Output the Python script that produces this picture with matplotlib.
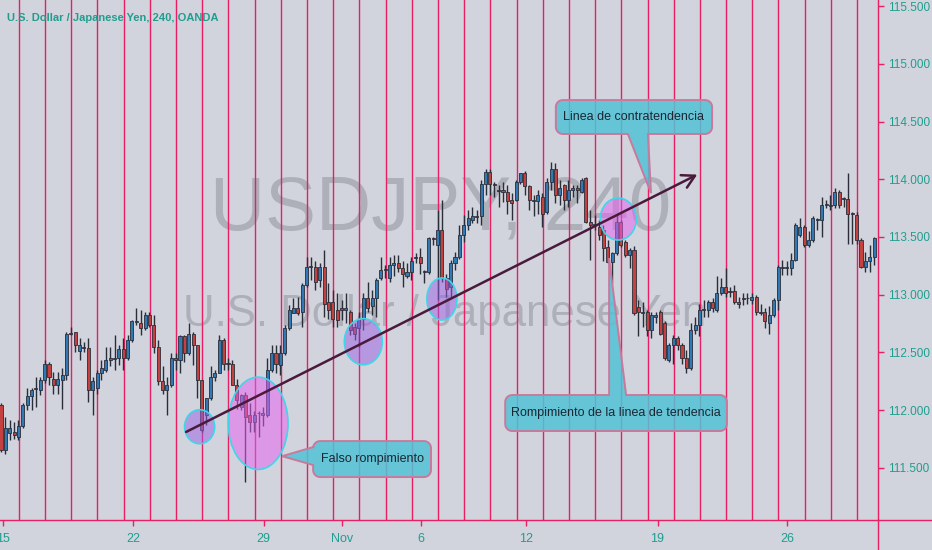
import numpy as np
import matplotlib.pyplot as plt
import matplotlib.transforms as mtransforms
from matplotlib.patches import Ellipse, Polygon
from matplotlib.lines import Line2D
from matplotlib.colors import to_rgba

plt.rcParams['font.family'] = ['Liberation Sans Narrow', 'Liberation Sans', 'DejaVu Sans']

# 4h candles, USDJPY
opens = [112.04, 111.65, 111.80, 111.81, 111.77, 111.86, 112.04, 112.12, 112.18, 112.17,
         112.26, 112.40, 112.27, 112.22, 112.26, 112.30, 112.66, 112.68, 112.51, 112.55,
         112.54, 112.17, 112.19, 112.32, 112.35, 112.43, 112.44, 112.45, 112.53, 112.45,
         112.61, 112.76, 112.75, 112.71, 112.82, 112.74, 112.55, 112.25, 112.17, 112.22,
         112.45, 112.43, 112.64, 112.49, 112.66, 112.56, 112.26, 111.96, 112.10, 112.29,
         112.32, 112.61, 112.41, 112.40, 112.22, 112.03, 112.13, 111.96, 111.90, 111.97,
         111.96, 111.96, 112.35, 112.49, 112.39, 112.49, 112.71, 112.84, 112.88,
         112.85, 113.08, 113.24, 113.24, 113.13, 113.24, 112.94, 112.94, 112.87, 112.88,
         112.87, 112.85, 112.72, 112.71, 112.79, 112.97, 112.90, 112.97, 113.14, 113.21,
         113.14, 113.26, 113.27, 113.23, 113.16, 113.20, 113.32, 113.33, 113.20, 113.20,
         113.49, 113.43, 113.56, 113.14, 113.07, 113.27, 113.33, 113.52, 113.60, 113.65,
         113.68, 113.68, 113.96, 114.06, 113.96, 113.91, 113.91, 113.89, 113.82, 113.82,
         113.98, 114.05, 113.94, 113.82, 113.81, 113.85, 113.72, 113.98, 114.09, 113.86,
         113.95, 113.82, 113.91, 113.92, 113.89, 114.01, 113.63, 113.60, 113.59,
         113.56, 113.41, 113.28, 113.36, 113.63, 113.46, 113.34, 113.39, 112.89, 112.84,
         112.85, 112.69, 112.81, 112.85, 112.75, 112.43, 112.56, 112.62, 112.56, 112.45,
         112.36, 112.69, 112.74, 112.87, 112.87, 112.94, 112.87, 113.01, 113.07, 113.03,
         113.03, 112.94, 112.97, 112.97, 112.95, 112.98, 112.85, 112.85, 112.75, 112.82,
         112.95, 113.24, 113.23, 113.23, 113.30, 113.52, 113.59, 113.43, 113.47, 113.65,
         113.65, 113.78, 113.77, 113.78, 113.89, 113.83, 113.83, 113.70, 113.69, 113.47,
         113.24, 113.29, 113.33]
highs = [112.06, 111.94, 111.91, 111.90, 111.91, 112.06, 112.19, 112.19, 112.29, 112.29,
         112.43, 112.42, 112.33, 112.33, 112.36, 112.68, 112.72, 112.68, 112.62, 112.59,
         112.62, 112.29, 112.35, 112.43, 112.55, 112.55, 112.65, 112.56, 112.62, 112.65,
         112.78, 112.88, 112.87, 112.85, 112.85, 112.82, 112.61, 112.38, 112.29, 112.49,
         112.49, 112.65, 112.65, 112.75, 112.68, 112.56, 112.26, 112.10, 112.38, 112.35,
         112.65, 112.62, 112.45, 112.43, 112.27, 112.14, 112.16, 112.06, 111.99, 111.99,
         112.03, 112.45, 112.56, 112.56, 112.56, 112.74, 112.91, 112.97, 112.98,
         113.10, 113.33, 113.33, 113.29, 113.27, 113.39, 113.10, 113.04, 113.01, 112.95,
         113.01, 112.87, 112.75, 112.85, 113.01, 113.11, 113.04, 113.14, 113.33, 113.26,
         113.33, 113.34, 113.34, 113.29, 113.27, 113.33, 113.36, 113.40, 113.21, 113.50,
         113.50, 113.73, 113.82, 113.18, 113.30, 113.37, 113.60, 113.69, 113.73, 113.76,
         113.73, 113.99, 114.09, 114.09, 113.98, 113.95, 113.98, 113.95, 113.88, 113.99,
         114.05, 114.07, 113.95, 113.86, 113.91, 113.88, 114.01, 114.15, 114.14, 113.99,
         113.96, 113.99, 113.95, 113.95, 114.01, 114.02, 113.73, 113.69, 113.65,
         113.60, 113.47, 113.37, 113.70, 113.65, 113.47, 113.40, 113.42, 112.95, 112.94,
         112.87, 112.85, 112.85, 112.87, 112.77, 112.58, 112.65, 112.64, 112.58, 112.52,
         112.75, 112.81, 112.92, 112.95, 112.95, 112.97, 113.16, 113.14, 113.23, 113.07,
         113.08, 112.98, 113.01, 113.01, 113.01, 113.00, 112.92, 112.88, 112.90, 112.97,
         113.26, 113.30, 113.29, 113.36, 113.62, 113.66, 113.60, 113.55, 113.68, 113.66,
         113.85, 113.82, 113.86, 113.92, 113.91, 113.85, 114.05, 113.72, 113.72, 113.49,
         113.37, 113.43, 113.50]
lows = [111.64, 111.62, 111.74, 111.75, 111.74, 111.84, 112.00, 112.00, 112.03, 112.13,
        112.23, 112.22, 112.14, 112.14, 112.01, 112.26, 112.65, 112.50, 112.43, 112.50,
        112.07, 111.96, 112.14, 112.26, 112.33, 112.38, 112.35, 112.39, 112.35, 112.43,
        112.59, 112.74, 112.65, 112.69, 112.72, 112.49, 112.22, 112.14, 111.96, 112.20,
        112.35, 112.32, 112.42, 112.48, 112.39, 112.10, 111.81, 111.87, 112.09, 112.25,
        112.32, 112.35, 112.35, 112.22, 112.01, 112.00, 111.38, 111.81, 111.81, 111.77,
        111.86, 111.94, 112.33, 112.32, 112.30, 112.48, 112.69, 112.84, 112.82,
        112.72, 113.07, 113.13, 113.04, 113.07, 112.81, 112.79, 112.72, 112.72, 112.78,
        112.75, 112.65, 112.61, 112.55, 112.69, 112.85, 112.82, 112.81, 113.13, 113.14,
        113.11, 113.16, 113.20, 113.07, 113.14, 113.13, 113.27, 113.18, 113.10, 113.18,
        113.43, 112.95, 113.11, 112.98, 112.97, 113.21, 113.31, 113.46, 113.56, 113.62,
        113.62, 113.60, 113.86, 113.86, 113.85, 113.76, 113.80, 113.70, 113.65, 113.81,
        113.96, 113.86, 113.73, 113.68, 113.70, 113.59, 113.70, 113.91, 113.79, 113.78,
        113.73, 113.76, 113.85, 113.79, 113.88, 113.62, 113.30, 113.56, 113.47,
        113.29, 113.27, 113.10, 113.34, 113.41, 113.33, 113.23, 112.82, 112.64, 112.72,
        112.64, 112.62, 112.75, 112.65, 112.43, 112.42, 112.40, 112.52, 112.40, 112.32,
        112.35, 112.66, 112.64, 112.81, 112.81, 112.85, 112.85, 113.00, 112.98, 112.98,
        112.92, 112.88, 112.91, 112.92, 112.92, 112.82, 112.82, 112.71, 112.66, 112.81,
        112.87, 113.17, 113.17, 113.17, 113.29, 113.50, 113.41, 113.41, 113.46, 113.56,
        113.50, 113.75, 113.73, 113.75, 113.75, 113.76, 113.44, 113.44, 113.44, 113.23,
        113.20, 113.20, 113.26]
closes = [111.65, 111.84, 111.84, 111.78, 111.86, 112.04, 112.12, 112.17, 112.19, 112.26,
          112.40, 112.29, 112.22, 112.27, 112.30, 112.66, 112.67, 112.56, 112.56, 112.54,
          112.17, 112.25, 112.32, 112.36, 112.43, 112.45, 112.45, 112.53, 112.45, 112.61,
          112.77, 112.77, 112.71, 112.82, 112.74, 112.55, 112.25, 112.17, 112.22, 112.45,
          112.43, 112.64, 112.49, 112.66, 112.56, 112.26, 111.83, 112.10, 112.29, 112.32,
          112.61, 112.40, 112.40, 112.22, 112.09, 112.13, 111.94, 111.90, 111.96, 111.97,
          111.97, 112.35, 112.49, 112.40, 112.49, 112.71, 112.87, 112.88, 112.84,
          113.08, 113.24, 113.25, 113.11, 113.24, 112.92, 112.87, 112.79, 112.78, 112.87,
          112.88, 112.69, 112.66, 112.79, 112.97, 112.88, 112.97, 113.13, 113.21, 113.22,
          113.26, 113.27, 113.23, 113.18, 113.20, 113.29, 113.33, 113.27, 113.20, 113.49,
          113.48, 113.56, 113.14, 113.05, 113.27, 113.33, 113.52, 113.60, 113.66, 113.68,
          113.67, 113.96, 114.06, 113.96, 113.95, 113.90, 113.89, 113.81, 113.79, 113.98,
          114.05, 113.94, 113.82, 113.81, 113.86, 113.70, 113.98, 114.09, 113.86, 113.92,
          113.82, 113.91, 113.92, 113.91, 113.99, 113.63, 113.60, 113.61, 113.52,
          113.40, 113.28, 113.36, 113.63, 113.43, 113.34, 113.39, 112.84, 112.85, 112.85,
          112.69, 112.82, 112.82, 112.66, 112.45, 112.56, 112.62, 112.56, 112.45, 112.36,
          112.69, 112.74, 112.87, 112.87, 112.94, 112.88, 113.01, 113.07, 113.01, 113.02,
          112.94, 112.92, 112.96, 112.97, 112.98, 112.85, 112.84, 112.77, 112.82, 112.95,
          113.24, 113.23, 113.24, 113.30, 113.60, 113.59, 113.43, 113.47, 113.66, 113.65,
          113.78, 113.78, 113.78, 113.89, 113.78, 113.83, 113.70, 113.70, 113.47, 113.24,
          113.29, 113.33, 113.49]

date_ticks = [0.4, 30.3, 60.2, 78.2, 96.2, 120.2, 150.4, 180.1]
date_labels = ['15', '22', '29', 'Nov', '6', '12', '19', '26']
price_ticks = [111.5, 112.0, 112.5, 113.0, 113.5, 114.0, 114.5, 115.0, 115.5]
day_starts = [4.1 + 6 * k for k in range(34)]

bg = '#d1d4dc'
pink = '#e91e63'
teal = '#1f9e90'
blue = '#3179b5'
red = '#c4413f'
dark = '#2a2e39'

fig = plt.figure(figsize=(9.32, 5.5), dpi=100, facecolor=bg)
ax = fig.add_axes([0, 30 / 550, 878 / 932, 520 / 550], facecolor=bg)
ax.set_xlim(-0.23, 200.9)
ax.set_ylim(111.047, 115.553)
ax.set_autoscale_on(False)

# watermark
ax.text(100.6, 113.73, 'USDJPY, 240', ha='center', va='center', fontsize=55,
        color='#adb0b8', zorder=0.5)
ax.text(101.7, 112.83, 'U.S. Dollar / Japanese Yen', ha='center', va='center', fontsize=31.5,
        color='#adb0b8', zorder=0.5)

for d in day_starts:
    ax.axvline(d, color=pink, lw=1.0, zorder=1)

o = np.array(opens)
h = np.array(highs)
l = np.array(lows)
c = np.array(closes)
x = np.arange(len(c))
up = c >= o
ax.vlines(x, l, h, color=dark, lw=1.0, zorder=3)
bot = np.minimum(o, c)
hgt = np.maximum(np.abs(c - o), 0.004)
ax.bar(x[up], hgt[up], bottom=bot[up], width=0.7, color=blue, edgecolor=dark, lw=0.6, zorder=4)
ax.bar(x[~up], hgt[~up], bottom=bot[~up], width=0.7, color=red, edgecolor=dark, lw=0.6, zorder=4)

# circles
violet = to_rgba('#9b5de5', 0.5)
magenta = to_rgba('#e85ef0', 0.5)
for cx, cy, w, hh, fc in [(45.5, 111.855, 6.9, 0.295, violet),
                          (58.9, 111.885, 13.7, 0.80, magenta),
                          (83.0, 112.592, 8.7, 0.40, violet),
                          (101.0, 112.962, 6.9, 0.364, violet),
                          (141.4, 113.655, 8.25, 0.364, magenta)]:
    ax.add_patch(Ellipse((cx, cy), w, hh, facecolor=fc, edgecolor='#3fd6e8', lw=1.2, zorder=5))

# trend line
ax.annotate('', xy=(159.5, 114.04), xytext=(42.4, 111.81),
            arrowprops=dict(arrowstyle='->,head_length=0.9,head_width=0.5', color='#4a1a3c',
                            lw=1.8, shrinkA=0, shrinkB=0), zorder=6)


def callout(box, side, base, tip, text):
    T = ax.transData
    (x0, y0), (x1, y1) = T.transform([(box[0], box[2]), (box[1], box[3])])
    b0 = T.transform(base[0])
    b1 = T.transform(base[1])
    tp = T.transform(tip)
    r = 7
    corners = [(x1 - r, y0 + r, -90, 0), (x1 - r, y1 - r, 0, 90),
               (x0 + r, y1 - r, 90, 180), (x0 + r, y0 + r, 180, 270)]
    after = {'right': 0, 'top': 1, 'left': 2, 'bottom': 3}[side]
    pts = []
    for j, (cx, cy, a0, a1) in enumerate(corners):
        for a in np.linspace(np.radians(a0), np.radians(a1), 10):
            pts.append((cx + r * np.cos(a), cy + r * np.sin(a)))
        if j == after:
            pts += [tuple(b0), tuple(tp), tuple(b1)]
    ax.add_patch(Polygon(pts, closed=True, transform=mtransforms.IdentityTransform(),
                         facecolor=to_rgba('#52c3d6', 0.85), edgecolor='#c9799c', lw=1.4,
                         zorder=7))
    ax.text((box[0] + box[1]) / 2, (box[2] + box[3]) / 2, text, ha='center', va='center',
            fontsize=9, color='#1b2733', zorder=8)


callout((127.1, 162.9, 114.392, 114.686), 'bottom',
        [(143.6, 114.392), (148.2, 114.392)], (148.9, 113.88), 'Linea de contratendencia')
callout((115.5, 166.3, 111.818, 112.130), 'top',
        [(143.2, 112.130), (139.3, 112.130)], (139.3, 113.317),
        'Rompimiento de la linea de tendencia')
callout((71.5, 98.5, 111.419, 111.731), 'left',
        [(71.5, 111.679), (71.5, 111.523)], (64.4, 111.60), 'Falso rompimiento')

# axes
for s in ['left', 'top']:
    ax.spines[s].set_visible(False)
for s in ['right', 'bottom']:
    ax.spines[s].set_color(pink)
    ax.spines[s].set_linewidth(1.0)
fig.add_artist(Line2D([878 / 932, 1], [30 / 550, 30 / 550], color=pink, lw=1.0))
fig.add_artist(Line2D([878 / 932, 878 / 932], [0, 30 / 550], color=pink, lw=1.0))

ax.yaxis.tick_right()
ax.set_yticks(price_ticks)
ax.set_yticklabels([f'{v:.3f}' for v in price_ticks])
ax.set_xticks(date_ticks)
ax.set_xticklabels(date_labels)
ax.tick_params(axis='y', length=4, width=1, color=pink, labelcolor=teal, labelsize=8.5, pad=3)
ax.tick_params(axis='x', length=4, width=1, color=pink, labelcolor=teal, labelsize=9, pad=5)

fig.text(7 / 932, 1 - 18 / 550, 'U.S. Dollar / Japanese Yen, 240, OANDA', ha='left',
         va='center', fontsize=8, color=teal, fontweight='bold')

fig.savefig('out.png', dpi=100, facecolor=bg)
